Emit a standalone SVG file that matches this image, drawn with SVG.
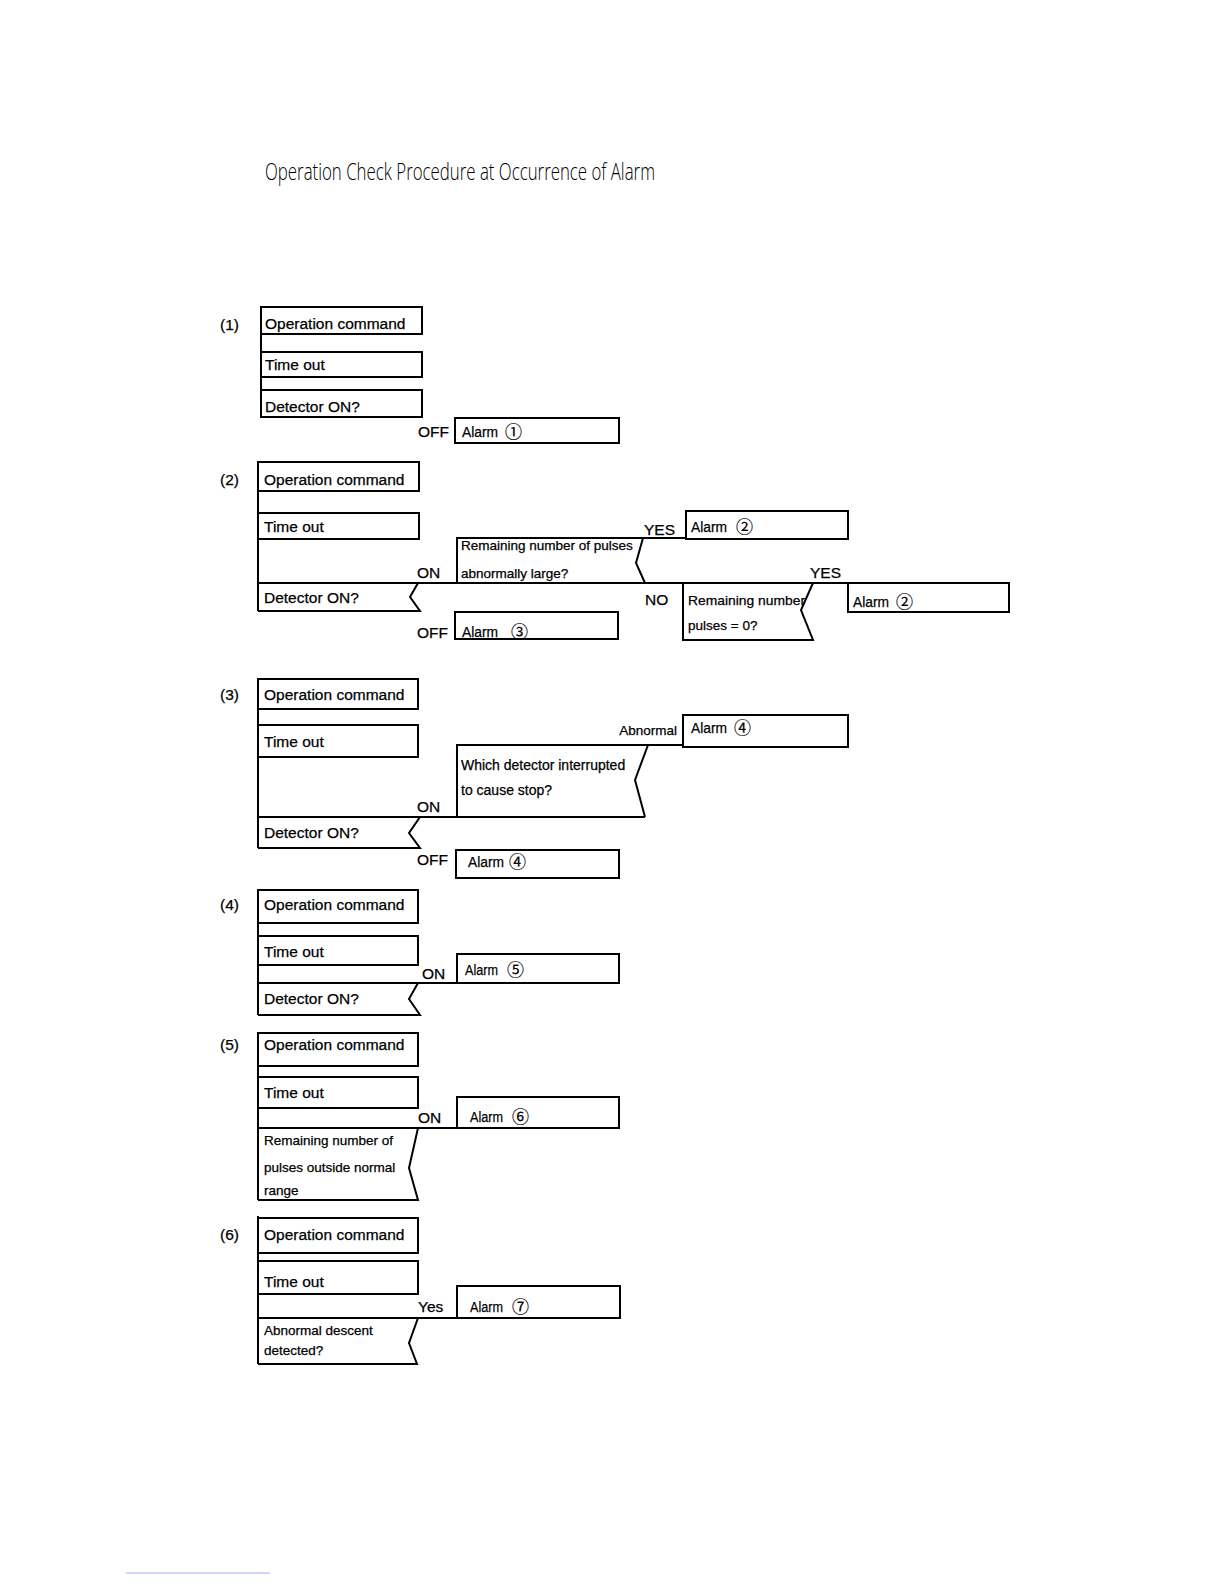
<svg xmlns="http://www.w3.org/2000/svg" width="1224" height="1584" viewBox="0 0 1224 1584">
<style>
  .b{fill:none;stroke:#000;stroke-width:2;stroke-linejoin:miter}
  .c{fill:none;stroke:#000;stroke-width:2}
  text{font-family:"Liberation Sans","Noto Sans CJK JP",sans-serif;fill:#000;stroke:#000;stroke-width:0.25}
  .m{font-size:15.5px}
  .s{font-size:13.5px}
  .w{font-size:14px}
  .n{font-family:"Noto Sans CJK JP","DejaVu Sans",sans-serif;font-size:17px;stroke-width:0.2}
  .t{font-family:"Open Sans","Liberation Sans",sans-serif;font-weight:300;font-size:23px;stroke:none}
</style>
<rect width="1224" height="1584" fill="#fff"/>
<text class="t" x="265" y="180" textLength="390" lengthAdjust="spacingAndGlyphs">Operation Check Procedure at Occurrence of Alarm</text>

<g id="connectors">
  <line class="c" x1="261" y1="307" x2="261" y2="417"/>
  <line class="c" x1="258" y1="462" x2="258" y2="611"/>
  <line class="c" x1="258" y1="583" x2="1009" y2="583"/>
  <line class="c" x1="643" y1="538" x2="686" y2="538"/>
  <line class="c" x1="258" y1="679" x2="258" y2="848"/>
  <line class="c" x1="258" y1="817" x2="645" y2="817"/>
  <line class="c" x1="648" y1="745" x2="683" y2="745"/>
  <line class="c" x1="258" y1="890" x2="258" y2="1015"/>
  <line class="c" x1="258" y1="983" x2="619" y2="983"/>
  <line class="c" x1="258" y1="1033" x2="258" y2="1200"/>
  <line class="c" x1="258" y1="1128" x2="619" y2="1128"/>
  <line class="c" x1="258" y1="1216" x2="258" y2="1364"/>
  <line class="c" x1="258" y1="1318" x2="620" y2="1318"/>
</g>

<g id="labels">
  <text class="m" x="220" y="330">(1)</text>
  <text class="m" x="418" y="437">OFF</text>
  <text class="m" x="220" y="485">(2)</text>
  <text class="m" x="675" y="535" text-anchor="end">YES</text>
  <text class="m" x="417" y="578">ON</text>
  <text class="m" x="417" y="638">OFF</text>
  <text class="m" x="645" y="605">NO</text>
  <text class="m" x="810" y="578">YES</text>
  <text class="m" x="220" y="700">(3)</text>
  <text class="s" x="677" y="735" text-anchor="end">Abnormal</text>
  <text class="m" x="417" y="812">ON</text>
  <text class="m" x="417" y="865">OFF</text>
  <text class="m" x="220" y="910">(4)</text>
  <text class="m" x="422" y="979">ON</text>
  <text class="m" x="220" y="1050">(5)</text>
  <text class="m" x="418" y="1123">ON</text>
  <text class="m" x="220" y="1240">(6)</text>
  <text class="m" x="418" y="1312">Yes</text>
</g>

<!-- Section 1 -->
<g id="s1-op"><rect class="b" x="261" y="307" width="161" height="27"/><text class="m" x="265" y="329">Operation command</text></g>
<g id="s1-timeout"><rect class="b" x="261" y="352" width="161" height="25"/><text class="m" x="265" y="370">Time out</text></g>
<g id="s1-detector"><rect class="b" x="261" y="390" width="161" height="27"/><text class="m" x="265" y="412">Detector ON?</text></g>
<g id="s1-alarm1"><rect class="b" x="455" y="418" width="164" height="25"/><text class="m" x="462" y="437" textLength="36" lengthAdjust="spacingAndGlyphs">Alarm</text><text class="n" x="505" y="438">①</text></g>

<!-- Section 2 -->
<g id="s2-op"><rect class="b" x="258" y="462" width="161" height="29"/><text class="m" x="264" y="485">Operation command</text></g>
<g id="s2-timeout"><rect class="b" x="258" y="513" width="161" height="26"/><text class="m" x="264" y="532">Time out</text></g>
<g id="s2-detector"><path class="b" d="M418,583 L410,597 L420,611 L258,611"/><text class="m" x="264" y="603">Detector ON?</text></g>
<g id="s2-large"><path class="b" d="M457,583 L457,538 L643,538 L636,563 L645,583"/><text class="s" x="461" y="550">Remaining number of pulses</text><text class="s" x="461" y="578">abnormally large?</text></g>
<g id="s2-alarm2a"><rect class="b" x="686" y="511" width="162" height="28"/><text class="m" x="691" y="532" textLength="36" lengthAdjust="spacingAndGlyphs">Alarm</text><text class="n" x="736" y="533">②</text></g>
<g id="s2-alarm3"><rect class="b" x="455" y="612" width="163" height="27"/><text class="m" x="462" y="637" textLength="36" lengthAdjust="spacingAndGlyphs">Alarm</text><text class="n" x="511" y="638">③</text></g>
<g id="s2-zero"><path class="b" d="M683,583 L683,640 L813,640 L801,610 L813,583"/><text class="s" x="688" y="605" textLength="117" lengthAdjust="spacingAndGlyphs">Remaining number</text><text class="s" x="688" y="630">pulses = 0?</text></g>
<g id="s2-alarm2b"><rect class="b" x="848" y="583" width="161" height="29"/><text class="m" x="853" y="607" textLength="36" lengthAdjust="spacingAndGlyphs">Alarm</text><text class="n" x="896" y="608">②</text></g>

<!-- Section 3 -->
<g id="s3-op"><rect class="b" x="258" y="679" width="160" height="30"/><text class="m" x="264" y="700">Operation command</text></g>
<g id="s3-timeout"><rect class="b" x="258" y="725" width="160" height="32"/><text class="m" x="264" y="747">Time out</text></g>
<g id="s3-detector"><path class="b" d="M420,817 L409,833 L420,848 L258,848"/><text class="m" x="264" y="838">Detector ON?</text></g>
<g id="s3-which"><path class="b" d="M457,817 L457,745 L648,745 L635,780 L645,817"/><text class="w" x="461" y="770">Which detector interrupted</text><text class="w" x="461" y="795">to cause stop?</text></g>
<g id="s3-alarm4a"><rect class="b" x="683" y="715" width="165" height="32"/><text class="m" x="691" y="733" textLength="36" lengthAdjust="spacingAndGlyphs">Alarm</text><text class="n" x="734" y="734">④</text></g>
<g id="s3-alarm4b"><rect class="b" x="456" y="850" width="163" height="28"/><text class="m" x="468" y="867" textLength="36" lengthAdjust="spacingAndGlyphs">Alarm</text><text class="n" x="509" y="868">④</text></g>

<!-- Section 4 -->
<g id="s4-op"><rect class="b" x="258" y="890" width="160" height="33"/><text class="m" x="264" y="910">Operation command</text></g>
<g id="s4-timeout"><rect class="b" x="258" y="936" width="160" height="29"/><text class="m" x="264" y="957">Time out</text></g>
<g id="s4-detector"><path class="b" d="M418,983 L409,999 L420,1015 L258,1015"/><text class="m" x="264" y="1004">Detector ON?</text></g>
<g id="s4-alarm5"><rect class="b" x="457" y="954" width="162" height="29"/><text class="m" x="465" y="975" textLength="33" lengthAdjust="spacingAndGlyphs">Alarm</text><text class="n" x="507" y="976">⑤</text></g>

<!-- Section 5 -->
<g id="s5-op"><rect class="b" x="258" y="1033" width="160" height="33"/><text class="m" x="264" y="1050">Operation command</text></g>
<g id="s5-timeout"><rect class="b" x="258" y="1077" width="160" height="31"/><text class="m" x="264" y="1098">Time out</text></g>
<g id="s5-range"><path class="b" d="M418,1128 L409,1168 L418,1200 L258,1200"/><text class="s" x="264" y="1145">Remaining number of</text><text class="s" x="264" y="1172">pulses outside normal</text><text class="s" x="264" y="1195">range</text></g>
<g id="s5-alarm6"><rect class="b" x="457" y="1097" width="162" height="31"/><text class="m" x="470" y="1122" textLength="33" lengthAdjust="spacingAndGlyphs">Alarm</text><text class="n" x="512" y="1123">⑥</text></g>

<!-- Section 6 -->
<g id="s6-op"><rect class="b" x="258" y="1218" width="160" height="35"/><text class="m" x="264" y="1240">Operation command</text></g>
<g id="s6-timeout"><rect class="b" x="258" y="1261" width="160" height="33"/><text class="m" x="264" y="1287">Time out</text></g>
<g id="s6-descent"><path class="b" d="M418,1318 L409,1343 L417,1364 L258,1364"/><text class="s" x="264" y="1335">Abnormal descent</text><text class="s" x="264" y="1355">detected?</text></g>
<g id="s6-alarm7"><rect class="b" x="457" y="1286" width="163" height="32"/><text class="m" x="470" y="1312" textLength="33" lengthAdjust="spacingAndGlyphs">Alarm</text><text class="n" x="512" y="1313">⑦</text></g>

<line x1="126" y1="1573" x2="270" y2="1573" stroke="#9aaaf0" stroke-width="1"/>
</svg>
